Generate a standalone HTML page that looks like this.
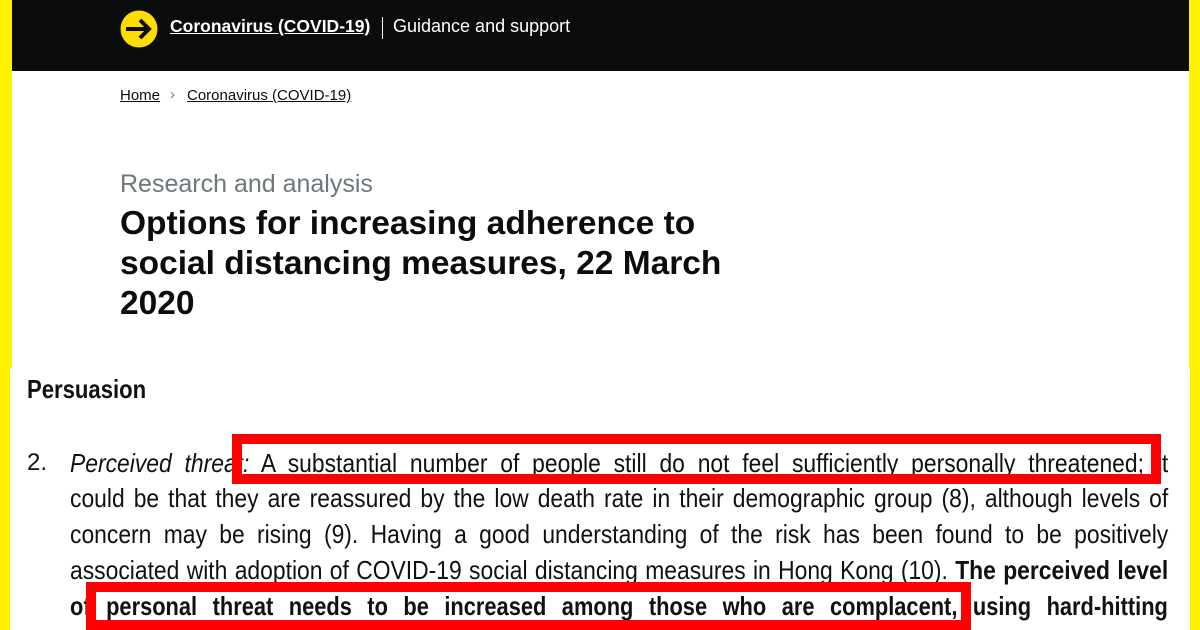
<!DOCTYPE html>
<html><head><meta charset="utf-8"><style>
*{margin:0;padding:0;box-sizing:border-box}
body{width:1200px;height:630px;overflow:hidden;background:#fff;position:relative;font-family:"Liberation Sans",sans-serif}
.abs{position:absolute}
.ln{position:absolute;left:70px;width:1248px;transform:scaleX(0.88);transform-origin:0 0;font-family:"Liberation Sans",sans-serif;font-size:26px;color:#111;text-align:justify;text-align-last:justify;white-space:nowrap;line-height:30px}
.box{position:absolute;border:10px solid #f00}
</style></head><body>
<div class="abs" style="left:0;top:0;width:12px;height:630px;background:#fff200"></div>
<div class="abs" style="left:1189px;top:0;width:11px;height:630px;background:#fff200"></div>
<div class="abs" style="left:12px;top:0;width:1177px;height:71px;background:#0b0c0c"></div>
<svg class="abs" style="left:120px;top:10px" width="38" height="38" viewBox="0 0 38 38"><circle cx="19" cy="19" r="18.5" fill="#ffdd00"/><path d="M6 19H28M20 10L29 19L20 28" stroke="#0b0c0c" stroke-width="4" fill="none"/></svg>
<div class="abs" style="left:170px;top:16px;color:#fff;font-weight:bold;font-size:17.5px;text-decoration:underline">Coronavirus (COVID-19)</div>
<div class="abs" style="left:382px;top:17px;width:1px;height:22px;background:#fff"></div>
<div class="abs" style="left:393px;top:16px;color:#fff;font-size:18px">Guidance and support</div>
<div class="abs" style="left:120px;top:87px;font-size:15px;color:#0b0c0c;text-decoration:underline">Home</div>
<div class="abs" style="left:170px;top:86px;font-size:15px;color:#777">›</div>
<div class="abs" style="left:187px;top:87px;font-size:15px;color:#0b0c0c;text-decoration:underline">Coronavirus (COVID-19)</div>
<div class="abs" style="left:120px;top:170px;font-size:25px;color:#6f777b">Research and analysis</div>
<div class="abs" style="left:120px;top:204px;font-size:33.5px;font-weight:bold;color:#0b0c0c;line-height:40px;width:660px">Options for increasing adherence to social distancing measures, 22 March 2020</div>
<div class="abs" style="left:10px;top:368px;width:1180px;height:262px;background:#fff"></div>
<div class="abs" style="left:27px;top:374px;font-weight:bold;font-size:26px;color:#111;transform:scaleX(0.85);transform-origin:0 0">Persuasion</div>
<div class="abs" style="left:27px;top:449px;font-size:24px;color:#111">2.</div>
<div class="ln" style="top:448px"><i>Perceived threat:</i> A substantial number of people still do not feel sufficiently personally threatened; it</div>
<div class="ln" style="top:483px">could be that they are reassured by the low death rate in their demographic group (8), although levels of</div>
<div class="ln" style="top:519px">concern may be rising (9). Having a good understanding of the risk has been found to be positively</div>
<div class="ln" style="top:555px">associated with adoption of COVID-19 social distancing measures in Hong Kong (10). <b>The perceived level</b></div>
<div class="ln" style="top:591px;font-weight:bold;width:1307px;transform:scaleX(0.84)">of personal threat needs to be increased among those who are complacent, using hard-hitting</div>
<div class="box" style="left:232px;top:434px;width:929px;height:50px"></div>
<div class="box" style="left:86px;top:582px;width:885px;height:48px"></div>
</body></html>
